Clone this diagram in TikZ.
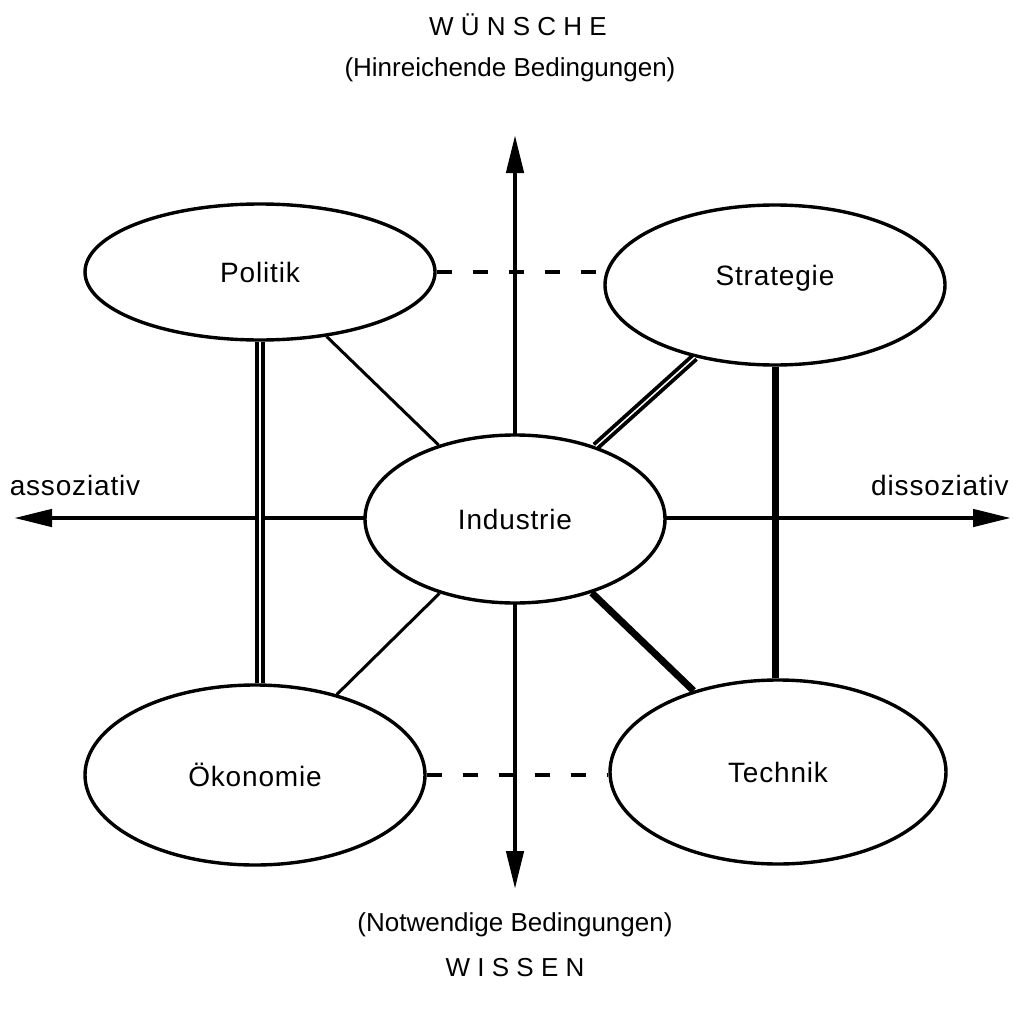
\documentclass[tikz,border=0pt]{standalone}
\usepackage{fontspec}
\setmainfont{Liberation Sans}
\usetikzlibrary{arrows.meta,shapes.geometric}
\begin{document}
\begin{tikzpicture}[x=1pt,y=-1pt,
  oval/.style={draw,ellipse,line width=3.4pt,fill=white,inner sep=0pt,font=\fontsize{28}{32}\selectfont\addfontfeature{LetterSpace=3}},
  axis/.style={line width=4.5pt,-{Triangle[length=38pt,width=17pt]}},
  thinlink/.style={line width=3pt},
  dbllink/.style={double=white,double distance=1.5pt,line width=3.8pt},
  thicklink/.style={line width=7pt},
  dashlink/.style={line width=4.5pt,dash pattern=on 15pt off 21pt},
  lbl/.style={font=\fontsize{26}{30}\selectfont},
  side/.style={font=\fontsize{28}{32}\selectfont\addfontfeature{LetterSpace=3}}]
\useasboundingbox (0,0) rectangle (1013,1012);
% axes
\coordinate (c) at (515,518);
\coordinate (top) at (515,135);
\coordinate (bot) at (515,889);
\coordinate (lft) at (14,518);
\coordinate (rgt) at (1011,518);
\draw[axis] (c) -- (top);
\draw[axis] (c) -- (bot);
\draw[axis] (c) -- (lft);
\draw[axis] (c) -- (rgt);
% nodes
\node[oval,minimum width=350pt,minimum height=136pt] (P) at (260,272) {Politik};
\node[oval,minimum width=340pt,minimum height=160pt] (S) at (775,285) {\raisebox{19pt}{Strategie}};
\node[oval,minimum width=300pt,minimum height=168pt] (I) at (515,519) {Industrie};
\node[oval,minimum width=340pt,minimum height=180pt] (O) at (255,775) {Ökonomie};
\node[oval,minimum width=336pt,minimum height=184pt] (T) at (778,772) {Technik};
% links
\draw[thinlink] (P) -- (I);
\draw[thinlink] (O) -- (I);
\draw[dbllink] (S) -- (I);
\draw[thicklink] (I) -- (T);
\draw[double=white,double distance=1.4pt,line width=4.4pt] (P.south) -- (P.south |- O.north);
\draw[line width=7pt] (S.south) -- (S.south |- T.north);
\draw[dashlink] (P.east) -- (P.east -| S.west);
\draw[dashlink] (O.east) -- (O.east -| T.west);
% labels
\node[lbl] (w1) at (518,25) {W Ü N S C H E};
\node[lbl] (w2) at (510,70) {(Hinreichende Bedingungen)};
\node[lbl] (n1) at (515,925) {(Notwendige Bedingungen)};
\node[lbl] (n2) at (515,968) {W I S S E N};
\node[side] (as) at (75,485) {assoziativ};
\node[side] (ds) at (940,485) {dissoziativ};
\end{tikzpicture}
\end{document}
